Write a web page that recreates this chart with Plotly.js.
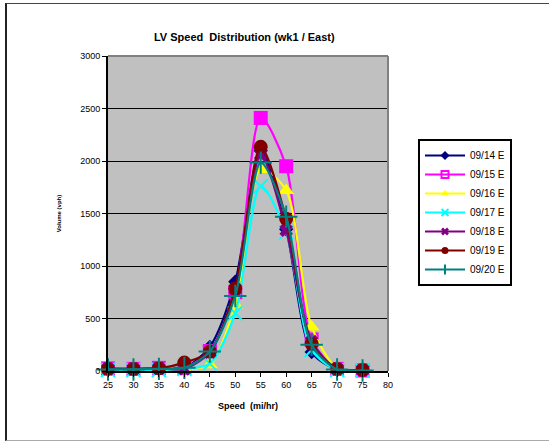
<!DOCTYPE html>
<html>
<head>
<meta charset="utf-8">
<script src="https://cdn.plot.ly/plotly-3.0.1.min.js"></script>
<style>
  html, body { margin: 0; padding: 0; background: #ffffff; }
  #frame {
    position: absolute; left: 5px; top: 3px; width: 560px; height: 436px;
    border-left: 2px solid #222222; border-top: 1px solid #444444; border-bottom: 1px solid #aaaaaa;
  }
  #chart { position: absolute; left: 0; top: 0; width: 549px; height: 442px; }
</style>
</head>
<body>
<div id="frame"></div>
<div id="chart"></div>
<script>
// Speed bins (mi/hr)
const speeds = [25, 30, 35, 40, 45, 50, 55, 60, 65, 70, 75];

// Vehicle counts per speed bin, one series per day (eastbound)
const d0914 = [15, 15, 20, 30, 230, 850, 2100, 1350, 180, 15, 5];
const d0915 = [25, 20, 30, 30, 190, 750, 2410, 1950, 300, 20, 5];
const d0916 = [10, 10, 10, 20, 60, 630, 1920, 1720, 420, 30, 5];
const d0917 = [10, 10, 10, 20, 70, 550, 1760, 1320, 200, 10, 5];
const d0918 = [20, 20, 25, 20, 180, 780, 2060, 1340, 280, 20, 10];
const d0919 = [20, 20, 25, 80, 185, 785, 2135, 1450, 260, 20, 10];
const d0920 = [15, 15, 20, 30, 185, 715, 1985, 1470, 250, 15, 5];

const names = ['09/14 E', '09/15 E', '09/16 E', '09/17 E', '09/18 E', '09/19 E', '09/20 E'];
const series = [d0914, d0915, d0916, d0917, d0918, d0919, d0920];
const colors = ['#000080', '#FF00FF', '#FFFF00', '#00FFFF', '#800080', '#800000', '#008080'];
const symbols = ['diamond', 'square', 'triangle-up', 'x-thin-open', 'x', 'circle', 'cross-thin-open'];
const legendSymbols = ['diamond', 'square-open', 'triangle-up', 'x-thin-open', 'x', 'circle', 'line-ns-open'];
const sizes = [11, 14, 14, 14, 12, 14, 16];

function markerLine(sym, color) {
  return { color: color, width: (sym.indexOf('thin') >= 0 || sym.indexOf('open') >= 0) ? 2 : 0 };
}

// Plotted series (legend entries are drawn separately with smaller markers)
const traces = series.map((ys, i) => ({
  x: speeds,
  y: ys,
  name: names[i],
  type: 'scatter',
  mode: 'lines+markers',
  cliponaxis: false,
  showlegend: false,
  line: { color: colors[i], width: 2.2, shape: 'spline', smoothing: 0.8 },
  marker: { symbol: symbols[i], size: sizes[i], color: colors[i], line: markerLine(symbols[i], colors[i]) }
}));

// Legend keys: same styling with compact markers
const keys = names.map((n, i) => ({
  x: [null],
  y: [null],
  name: n,
  type: 'scatter',
  mode: 'lines+markers',
  line: { color: colors[i], width: 2.2 },
  marker: { symbol: legendSymbols[i], size: 7, color: colors[i], line: markerLine(legendSymbols[i], colors[i]) }
}));

const layout = {
  width: 549,
  height: 442,
  margin: { l: 108, r: 161, t: 56, b: 71 },
  paper_bgcolor: 'rgba(0,0,0,0)',
  plot_bgcolor: '#C0C0C0',
  font: { family: 'Arial, Liberation Sans, sans-serif', size: 9, color: '#000000' },
  title: {
    text: '<b>LV Speed  Distribution (wk1 / East)</b>',
    font: { size: 11, family: 'Arial, Liberation Sans, sans-serif', color: '#000000' },
    x: 0.445, xanchor: 'center', y: 0.915, yanchor: 'middle'
  },
  xaxis: {
    range: [25, 80],
    tickvals: [25, 30, 35, 40, 45, 50, 55, 60, 65, 70, 75, 80],
    ticks: 'outside', ticklen: 4, tickcolor: '#000000',
    showline: true, linecolor: '#000000', linewidth: 2,
    showgrid: false, zeroline: false,
    title: { text: '<b>Speed  (mi/hr)</b>', font: { size: 9 }, standoff: 14 },
    tickfont: { size: 9 }
  },
  yaxis: {
    range: [0, 3000],
    dtick: 500,
    ticks: 'outside', ticklen: 4, tickcolor: '#000000',
    showline: true, linecolor: '#000000', linewidth: 2,
    showgrid: true, gridcolor: '#000000', gridwidth: 1,
    zeroline: false,
    title: { text: '<b>Volume (vph)</b>', font: { size: 6 }, standoff: 18 },
    tickfont: { size: 9 }
  },
  shapes: [
    { type: 'line', xref: 'paper', yref: 'paper', x0: 0, x1: 1, y0: 1, y1: 1, line: { color: '#808080', width: 2 } },
    { type: 'line', xref: 'paper', yref: 'paper', x0: 1, x1: 1, y0: 0, y1: 1, line: { color: '#808080', width: 2 } }
  ],
  legend: {
    x: 418 / 549, xref: 'container', xanchor: 'left',
    y: 1 - 139 / 442, yref: 'container', yanchor: 'top',
    bgcolor: '#FFFFFF', bordercolor: '#000000', borderwidth: 2,
    font: { size: 10 },
    itemwidth: 40,
    tracegroupgap: 0
  },
  showlegend: true
};

Plotly.newPlot('chart', traces.concat(keys), layout, { displayModeBar: false, staticPlot: true });
</script>
</body>
</html>
